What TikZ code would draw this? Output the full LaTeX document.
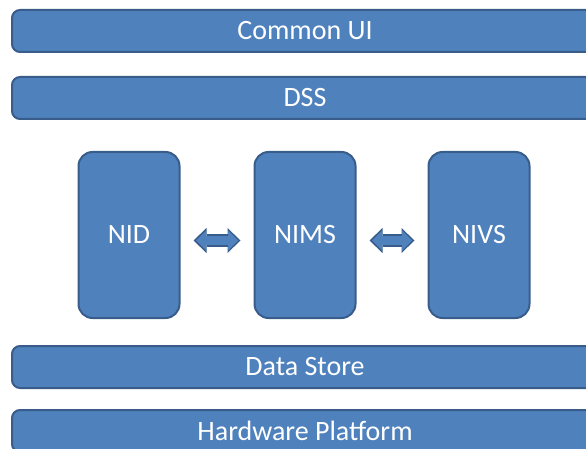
\documentclass[tikz,border=0pt]{standalone}
\usepackage{fontspec}
\setmainfont{Carlito}
\usepackage{tikz}
\usetikzlibrary{arrows.meta, positioning}

\definecolor{unitfill}{HTML}{4F81BD}
\definecolor{unitborder}{HTML}{385D8A}

\begin{document}
\begin{tikzpicture}[x=1pt, y=-1pt,
  every node/.style={font=\fontsize{28}{33}\selectfont, text=white, outer sep=0pt},
  layer/.style={draw=unitborder, line width=2pt, fill=unitfill, rounded corners=8pt, minimum width=586pt, minimum height=42pt, inner sep=0pt},
  module/.style={draw=unitborder, line width=2pt, fill=unitfill, rounded corners=14pt, minimum width=101pt, minimum height=166pt, inner sep=0pt},
  link/.style={preaction={draw=unitborder, line width=13.5pt, shorten <=14pt, shorten >=14pt,
      arrows={Triangle[length=13pt, width=25pt, line width=0pt]-Triangle[length=13pt, width=25pt, line width=0pt]}},
    draw=unitfill, line width=9.5pt, shorten <=16.5pt, shorten >=16.5pt,
    arrows={Triangle[length=10pt, width=20pt, line width=0pt]-Triangle[length=10pt, width=20pt, line width=0pt]}}]
  \useasboundingbox (0,0) rectangle (586,449);
  \clip (0,0) rectangle (586,449);
  % Nodes
  \node[layer] (commonui) at (305,31) {Common UI};
  \node[layer, below=25pt of commonui] (dss) {DSS};
  \node[module, below=33pt of dss] (nims) {NIMS};
  \node[module, left=75pt of nims] (nid) {NID};
  \node[module, right=73pt of nims] (nivs) {NIVS};
  \node[layer, below=28pt of nims] (store) {Data Store};
  \node[layer, below=22pt of store] (hw) {Hardware Platform};
  % Edges
  \draw[link] ([yshift=-5.5pt]nid.east) -- ([yshift=-5.5pt]nims.west);
  \draw[link] ([yshift=-5.5pt]nims.east) -- ([yshift=-5.5pt]nivs.west);
\end{tikzpicture}
\end{document}
